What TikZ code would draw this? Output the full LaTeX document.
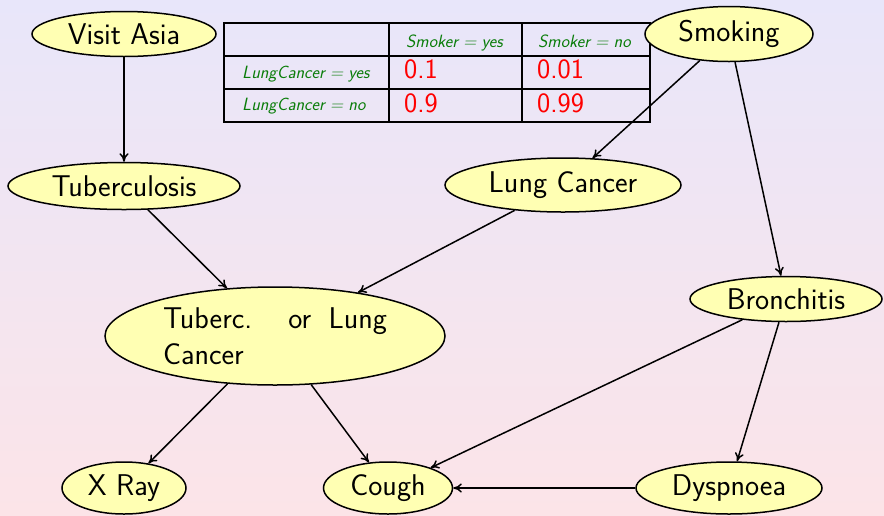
\documentclass[tikz,border=0pt]{standalone}
\usepackage{fontspec}
\usetikzlibrary{shapes.geometric,arrows.meta}
\definecolor{bgtop}{RGB}{232,230,250}
\definecolor{bgbot}{RGB}{252,228,232}
\definecolor{nodefill}{RGB}{255,255,179}
\definecolor{lblgreen}{RGB}{10,125,10}
\begin{document}
\begin{tikzpicture}[x=1pt,y=-1pt,
  bn/.style={ellipse,draw=black,line width=1.5pt,fill=nodefill,inner sep=1pt,
    font=\sffamily\fontsize{30}{36}\selectfont},
  edge/.style={line width=1.5pt,-{Computer Modern Rightarrow[length=8.5pt,width=9pt]}},
  gridline/.style={line width=1.5pt},
  hdr/.style={anchor=base west,inner sep=0pt,text=lblgreen,
    font=\sffamily\slshape\fontsize{17.8}{20}\selectfont},
  val/.style={anchor=base west,inner sep=0pt,text=red,
    font=\sffamily\fontsize{28}{32}\selectfont}]
\useasboundingbox (0,0) rectangle (884,515);
\shade[top color=bgtop,bottom color=bgbot] (0,0) rectangle (884,515);

% table
\draw[gridline] (224,23) rectangle (650,122);
\draw[gridline] (224,56) -- (650,56);
\draw[gridline] (224,89) -- (650,89);
\draw[gridline] (389,23) -- (389,122);
\draw[gridline] (522,23) -- (522,122);
\node[hdr] (h1) at (406,47) {Smoker\hspace{0.3em}=\hspace{0.3em}yes};
\node[hdr] (h2) at (538,47) {Smoker\hspace{0.3em}=\hspace{0.3em}no};
\node[hdr] (r1) at (242,78) {LungCancer\hspace{0.3em}=\hspace{0.3em}yes};
\node[hdr] (r2) at (242,110) {LungCancer\hspace{0.3em}=\hspace{0.3em}no};
\node[val] (v11) at (404,78) {0.1};
\node[val] (v12) at (537,78) {0.01};
\node[val] (v21) at (404,112) {0.9};
\node[val] (v22) at (537,112) {0.99};

% nodes
\node[bn,minimum width=184pt,minimum height=45pt] (visit) at (124,34) {Visit Asia};
\node[bn,minimum width=168pt,minimum height=55pt] (smoke) at (729,34) {Smoking};
\node[bn,minimum width=232pt,minimum height=47pt] (tub) at (124,186) {Tuberculosis};
\node[bn,minimum width=236pt,minimum height=54pt] (lung) at (563,185) {Lung Cancer};
\node[bn,minimum width=192pt,minimum height=45pt] (bron) at (786,299) {Bronchitis};
\node[bn,minimum width=340pt,minimum height=98pt,text width=224pt,align=justify] (tlc) at (275,336) {Tuberc. or Lung Cancer};
\node[bn,minimum width=124pt,minimum height=52pt] (xray) at (124,488) {X Ray};
\node[bn,minimum width=129pt,minimum height=52pt] (cough) at (388,488) {Cough};
\node[bn,minimum width=186pt,minimum height=52pt] (dysp) at (729,488) {Dyspnoea};

% edges
\draw[edge] (visit) -- (tub);
\draw[edge] (smoke) -- (lung);
\draw[edge] (smoke) -- (bron);
\draw[edge] (tub) -- (tlc);
\draw[edge] (lung) -- (tlc);
\draw[edge] (tlc) -- (xray);
\draw[edge] (tlc) -- (cough);
\draw[edge] (bron) -- (cough);
\draw[edge] (bron) -- (dysp);
\draw[edge] (dysp) -- (cough);
\end{tikzpicture}
\end{document}
